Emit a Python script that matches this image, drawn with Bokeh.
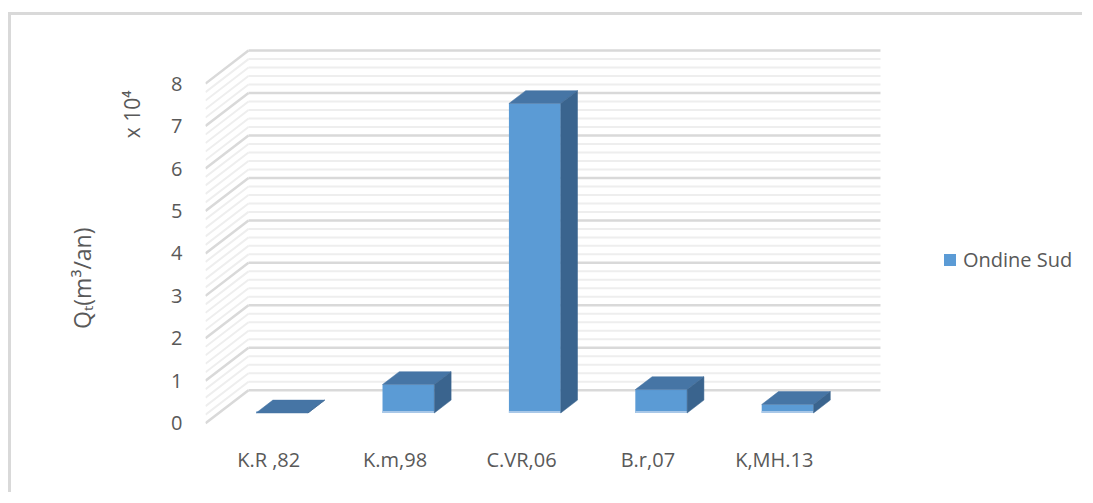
import numpy as np
from bokeh.plotting import figure
from bokeh.models import (Range1d, LinearAxis, FixedTicker, Legend,
                          LegendItem, ColumnDataSource, Title)
from bokeh.embed import file_html
from bokeh.resources import INLINE

# ---------------- data ----------------
categories = ["K.R ,82", "K.m,98", "C.VR,06", "B.r,07", "K,MH.13"]
values = [0.0, 0.67, 7.29, 0.55, 0.20]          # Qt, in units of 10^4 m3/an
y_ticks = [0, 1, 2, 3, 4, 5, 6, 7, 8]
series_name = "Ondine Sud"
y_title = "Qₜ(m³/an)"
y_multiplier = "x 10⁴"
grid_minor_step = 0.2

# ---------------- layout / style ----------------
W, H = 1074, 480
MB_LEFT, MB_BOTTOM = 194, 55
SLOT_PX, UNIT_PX = 126.4, 42.45
ZERO_PX = 407.7                      # canvas y of value 0 on the front plane
DXW, DYW = 43 / SLOT_PX, 33 / UNIT_PX  # depth of the 3D walls in data units
F0, FD = 0.31, 0.39                  # bar front offset / bar depth (fraction of wall depth)
BAR_W = 0.41
FONT = "Open Sans"
FS = "20px"
TXT = "#595959"
C_FRONT, C_TOP, C_SIDE, C_BASE = "#5B9BD5", "#4675A5", "#3A648E", "#A9C8E8"

frame_h = H - MB_BOTTOM
x_range = Range1d(0, (W - MB_LEFT) / SLOT_PX)
y_range = Range1d(-(frame_h - ZERO_PX) / UNIT_PX, ZERO_PX / UNIT_PX)

p = figure(width=W, height=H, x_range=x_range, y_range=y_range,
           output_backend="svg", toolbar_location=None,
           x_axis_type=None, y_axis_type=None,
           min_border_left=MB_LEFT, min_border_right=0,
           min_border_top=0, min_border_bottom=MB_BOTTOM)
p.outline_line_color = None
p.background_fill_color = "white"
p.border_fill_color = "white"
p.styles = {"border-top": "3px solid #d9d9d9", "border-left": "3px solid #d9d9d9",
            "position": "relative", "top": "12px", "left": "8px"}

n = len(categories)
top_val = max(y_ticks)
grid_vals = np.round(np.arange(0, top_val + 1e-9, grid_minor_step), 3)
minor = [v for v in grid_vals if abs(v - round(v)) > 1e-6]
major = [v for v in grid_vals if abs(v - round(v)) <= 1e-6]

for gv, col, lw in ((minor, "#eeeeee", 2), (major, "#d9d9d9", 2.5)):
    gv = np.array(gv)
    # back wall
    p.segment(x0=np.full(len(gv), DXW), x1=np.full(len(gv), DXW + n),
              y0=gv + DYW, y1=gv + DYW, line_color=col, line_width=lw)
    # side wall
    p.segment(x0=np.zeros(len(gv)), x1=np.full(len(gv), DXW),
              y0=gv, y1=gv + DYW, line_color=col, line_width=lw)

# ---------------- 3D bars ----------------
ox, oy = F0 * DXW, F0 * DYW
ddx, ddy = FD * DXW, FD * DYW
xl = np.arange(n) + 0.5 - BAR_W / 2 + ox
xr = xl + BAR_W
vals = np.array(values)
yb = np.full(n, oy)
yt = yb + vals

front_src = ColumnDataSource(dict(left=xl, right=xr, bottom=yb, top=yt))
top_xs = [[a, b, b + ddx, a + ddx] for a, b in zip(xl, xr)]
top_ys = [[t, t, t + ddy, t + ddy] for t in yt]
side_xs = [[b, b, b + ddx, b + ddx] for b in xr]
side_ys = [[y0, t, t + ddy, y0 + ddy] for y0, t in zip(yb, yt)]

front_r = p.quad(left="left", right="right", bottom="bottom", top="top",
                 source=front_src, fill_color=C_FRONT, line_color=None)
p.segment(x0=xl, x1=xr, y0=yb + 0.02, y1=yb + 0.02, line_color=C_BASE,
          line_width=2)
p.patches(top_xs, top_ys, fill_color=C_TOP, line_color=C_TOP, line_width=0.5)
p.patches(side_xs, side_ys, fill_color=C_SIDE, line_color=C_SIDE, line_width=0.5)

# ---------------- axes ----------------
yaxis = LinearAxis(ticker=FixedTicker(ticks=y_ticks))
xaxis = LinearAxis(ticker=FixedTicker(ticks=[i + 0.5 for i in range(n)]),
                   major_label_overrides={i + 0.5: c for i, c in enumerate(categories)})
for ax in (yaxis, xaxis):
    ax.axis_line_color = None
    ax.major_tick_line_color = None
    ax.minor_tick_line_color = None
    ax.major_tick_in = 0
    ax.major_tick_out = 0
    ax.minor_tick_in = 0
    ax.minor_tick_out = 0
    ax.major_label_text_font = FONT
    ax.major_label_text_font_size = FS
    ax.major_label_text_color = TXT
yaxis.major_label_standoff = 23
xaxis.major_label_standoff = 5
p.add_layout(yaxis, "left")
p.add_layout(xaxis, "below")

# ---------------- vertical titles (left side) ----------------
p.add_layout(Title(text=y_multiplier, align="right", vertical_align="top",
                   offset=75, standoff=41, text_font=FONT, text_font_size="21px",
                   text_color=TXT, text_font_style="normal"), "left")
p.add_layout(Title(text=y_title, align="right", vertical_align="bottom",
                   offset=212, standoff=0, text_font=FONT, text_font_size="23px",
                   text_color=TXT, text_font_style="normal"), "left")

# ---------------- legend ----------------
legend = Legend(items=[LegendItem(label=series_name, renderers=[front_r])],
                location=(737, 167), padding=0, margin=0, spacing=0,
                glyph_width=15, glyph_height=15, label_standoff=6,
                label_text_font=FONT, label_text_font_size=FS,
                label_text_color=TXT, border_line_color=None,
                background_fill_alpha=0)
p.add_layout(legend)

open("out.html", "w").write(file_html(p, INLINE))
